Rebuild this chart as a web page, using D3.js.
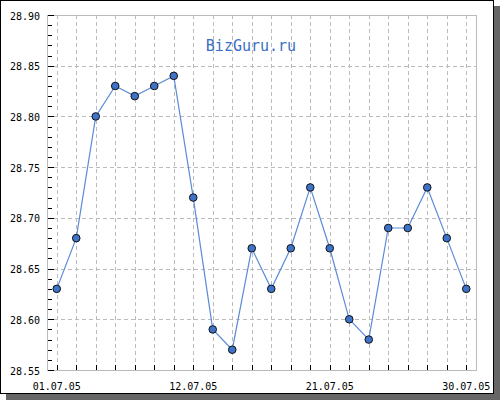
<!DOCTYPE html>
<html>
<head>
<meta charset="utf-8">
<script src="https://d3js.org/d3.v7.min.js"></script>
<style>
body { margin: 0; background: #fff; }
svg { display: block; }
text { font-family: 'DejaVu Sans Mono', monospace; }
</style>
</head>
<body>
<svg></svg>
<script>
// USD rate, July 2005
const dates = ["01.07.05","02.07.05","05.07.05","06.07.05","07.07.05","08.07.05","09.07.05",
  "12.07.05","13.07.05","14.07.05","15.07.05","16.07.05","19.07.05","20.07.05","21.07.05",
  "22.07.05","23.07.05","26.07.05","27.07.05","28.07.05","29.07.05","30.07.05"];
const rates = [28.63, 28.68, 28.80, 28.83, 28.82, 28.83, 28.84, 28.72, 28.59, 28.57, 28.67,
  28.63, 28.67, 28.73, 28.67, 28.60, 28.58, 28.69, 28.69, 28.73, 28.68, 28.63];
const labelDates = ["01.07.05", "12.07.05", "21.07.05", "30.07.05"];
const yTicks = [28.55, 28.60, 28.65, 28.70, 28.75, 28.80, 28.85, 28.90];
const title = "BizGuru.ru";

const width = 500, height = 400;
const plot = {left: 47, top: 15, right: 476, bottom: 370};

const svg = d3.select("svg").attr("width", width).attr("height", height);

// frame with shadow
svg.append("rect").attr("x", 6).attr("y", 6).attr("width", 494).attr("height", 394).attr("fill", "#666");
svg.append("rect").attr("x", 0.5).attr("y", 0.5).attr("width", 493).attr("height", 393)
  .attr("fill", "#fff").attr("stroke", "#000");

const x = d3.scalePoint().domain(dates).range([plot.left, plot.right]).padding(0.5);
const y = d3.scaleLinear().domain([28.55, 28.90]).range([plot.bottom, plot.top]);

const crisp = v => Math.round(v) + 0.5;

// grid
const grid = svg.append("g").attr("stroke", "#bbb").attr("stroke-dasharray", "4,3")
  .attr("shape-rendering", "crispEdges");
grid.selectAll(".gx").data(dates).enter().append("line")
  .attr("x1", d => crisp(x(d))).attr("x2", d => crisp(x(d)))
  .attr("y1", plot.top).attr("y2", plot.bottom);
grid.selectAll(".gy").data(yTicks.slice(1, -1)).enter().append("line")
  .attr("x1", plot.left).attr("x2", plot.right)
  .attr("y1", d => crisp(y(d))).attr("y2", d => crisp(y(d)));

// plot border
svg.append("rect").attr("x", plot.left + 0.5).attr("y", plot.top + 0.5)
  .attr("width", plot.right - plot.left).attr("height", plot.bottom - plot.top)
  .attr("fill", "none").attr("stroke", "#bbb").attr("shape-rendering", "crispEdges");

// y ticks (major + minor), drawn inward
const ticks = svg.append("g").attr("stroke", "#000").attr("shape-rendering", "crispEdges");
const minor = d3.range(0, 36).map(i => 28.55 + i * 0.01);
ticks.selectAll(".ty").data(minor).enter().append("line")
  .attr("x1", plot.left + 1)
  .attr("x2", (d, i) => i % 5 === 0 ? plot.left + 7 : plot.left + 5)
  .attr("y1", d => crisp(y(d))).attr("y2", d => crisp(y(d)));
ticks.selectAll(".tx").data(dates).enter().append("line")
  .attr("x1", d => crisp(x(d))).attr("x2", d => crisp(x(d)))
  .attr("y1", plot.bottom - 5).attr("y2", plot.bottom);

// y labels
svg.append("g").selectAll("text").data(yTicks).enter().append("text")
  .attr("x", 40).attr("y", d => y(d) + 4.5)
  .attr("text-anchor", "end").attr("font-size", 10).attr("fill", "#000")
  .text(d => d.toFixed(2));

// x labels
svg.append("g").selectAll("text").data(labelDates).enter().append("text")
  .attr("x", d => x(d)).attr("y", 390)
  .attr("text-anchor", "middle").attr("font-size", 10).attr("fill", "#000")
  .text(d => d);

// title
svg.append("text").attr("x", 251).attr("y", 51).attr("text-anchor", "middle")
  .attr("font-size", 15).attr("fill", "#3a6ec8").text(title);

// line + points
const line = d3.line().x((d, i) => x(dates[i])).y(d => y(d));
svg.append("path").datum(rates).attr("d", line)
  .attr("fill", "none").attr("stroke", "#5a8ad8").attr("stroke-width", 1.2);
svg.append("g").selectAll("circle").data(rates).enter().append("circle")
  .attr("cx", (d, i) => x(dates[i])).attr("cy", d => y(d)).attr("r", 3.8)
  .attr("fill", "#3d73c9").attr("stroke", "#111").attr("stroke-width", 1);
</script>
</body>
</html>
